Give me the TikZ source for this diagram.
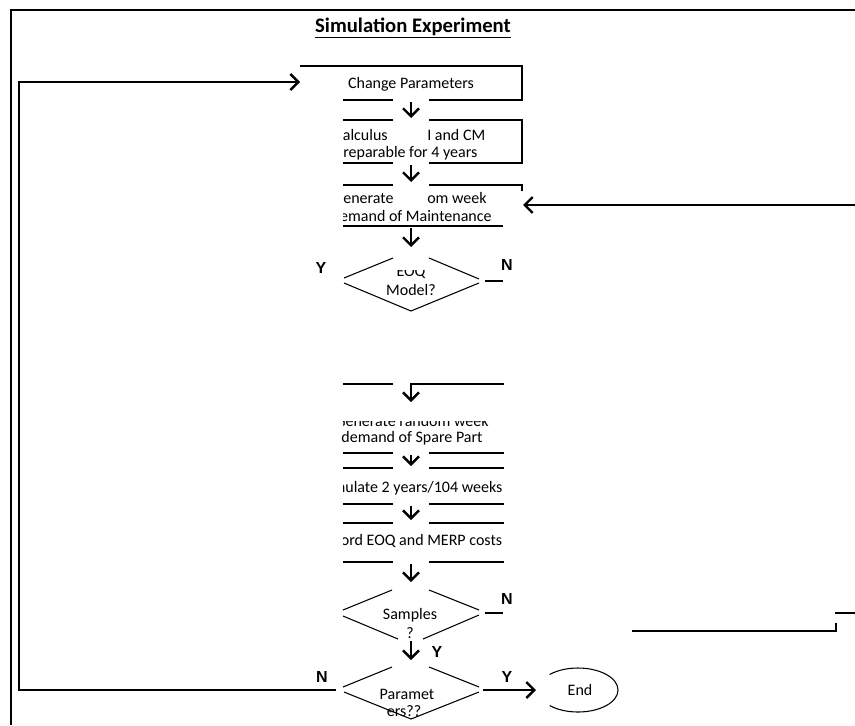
\documentclass[tikz,border=0pt]{standalone}
\usepackage{fontspec}
\setmainfont{Carlito}
\newfontfamily\lblfont{Liberation Sans}
\usetikzlibrary{arrows.meta}

\tikzset{
  boxline/.style={line width=1.8pt},
  dialine/.style={line width=0.8pt},
  flow/.style={line width=1.6pt, -{Straight Barb[length=6pt,width=12pt,line width=1.8pt]}},
  txt/.style={inner sep=0pt, font=\fontsize{12}{14}\selectfont},
  yn/.style={inner sep=0pt, font=\lblfont\bfseries\fontsize{12}{14}\selectfont},
}

\begin{document}
\begin{tikzpicture}[x=0.75pt, y=-0.75pt]
    \useasboundingbox (0,0) rectangle (855,725);

    %cadre
    \draw[line width=2pt] (11,725) -- (11,10) -- (855,10);
    \node[inner sep=0pt, font=\bfseries\fontsize{15.5}{18}\selectfont] (titre) at (413,28) {\underline{Simulation Experiment}};

    %boucle gauche
    \coordinate (bgA) at (336,690);
    \coordinate (bgB) at (19,690);
    \coordinate (bgC) at (19,82);
    \coordinate (bgD) at (300,82);
    \draw[flow] (bgA) -- (bgB) -- (bgC) -- (bgD);

    %boucle droite
    \coordinate (bdA) at (855,205);
    \coordinate (bdB) at (523,205);
    \draw[flow] (bdA) -- (bdB);
    \draw[boxline] (632,631) -- (836,631) -- (836,623);
    \draw[boxline] (835,613) -- (855,613);

    %boites du haut
    \draw[boxline] (300,66) -- (522,66) -- (522,100) -- (429,100);
    \draw[boxline] (393,100) -- (343,100);
    \draw[boxline] (343,120) -- (393,120);
    \draw[boxline] (429,120) -- (522,120) -- (522,163) -- (429,163);
    \draw[boxline] (393,163) -- (343,163);
    \draw[boxline] (343,185) -- (393,185);
    \draw[boxline] (429,185) -- (522,185) -- (522,191);
    \draw[boxline] (343,226) -- (503,226);

    %boites du bas
    \draw[boxline] (343,384) -- (393,384);
    \coordinate (spA) at (504,384);
    \coordinate (spB) at (411,384);
    \coordinate (spC) at (411,402);
    \draw[flow] (spA) -- (spB) -- (spC);
    \foreach \y in {453,468,504,523,562}{
      \draw[boxline] (343,\y) -- (393,\y);
      \draw[boxline] (429,\y) -- (504,\y);
    }

    %fleches
    \foreach \ya/\yb in {102/118, 165/182, 228/247, 455/466, 506/520, 564/582, 641/660}
      \draw[flow] (411,\ya) -- (411,\yb);
    \coordinate (endA) at (483,690);
    \coordinate (endB) at (536,690);
    \draw[flow] (endA) -- (endB);

    %losanges
    \draw[dialine] (344,278) -- (393,258);
    \draw[dialine] (429,258) -- (479,279);
    \draw[dialine] (344,283) -- (411,311) -- (479,283);
    \draw[dialine] (343,610) -- (392,590);
    \draw[dialine] (429,590) -- (479,610);
    \draw[dialine] (343,616) -- (398,639);
    \draw[dialine] (423,639) -- (479,615);
    \draw[dialine] (343,687) -- (392,667);
    \draw[dialine] (429,667) -- (479,687);
    \draw[dialine] (344,692) -- (411,719) -- (479,692);
    \draw[boxline] (485,281) -- (503,281);
    \draw[boxline] (485,613) -- (503,613);

    %fin
    \draw[dialine] (578,690) ++(135:40 and 22) arc[start angle=135, end angle=-135, x radius=40, y radius=22];
    \node[txt] (fin) at (580,690) {End};

    %textes
    \node[txt] (chg) at (411,84) {Change Parameters};
    \begin{scope}
      \clip (343,0) rectangle (393,725);
      \node[txt, anchor=east] (calcA) at (388,135) {Calculus};
      \node[txt, anchor=west] (genA) at (333,198) {Generate};
    \end{scope}
    \node[txt, anchor=west] (calcB) at (427,135) {I and CM};
    \node[txt, anchor=west] (calcC) at (343,153) {reparable for 4 years};
    \node[txt, anchor=west] (genB) at (427,198) {om week};
    \begin{scope}
      \clip (343,0) rectangle (855,725);
      \node[txt] (genC) at (411,216) {Demand of Maintenance};
      \node[txt] (simu) at (412,488) {Simulate 2 years/104 weeks};
      \node[txt] (rec) at (410,541) {Record EOQ and MERP costs};
    \end{scope}
    \begin{scope}
      \clip (343,421) rectangle (855,725);
      \node[txt] (spA) at (412,421) {Generate random week};
    \end{scope}
    \node[txt] (spB) at (412,438) {demand of Spare Part};
    \begin{scope}
      \clip (0,270) rectangle (855,725);
      \node[txt] (eoqA) at (411,272) {EOQ};
    \end{scope}
    \node[txt] (eoqB) at (411,290) {Model?};
    \node[txt] (smpA) at (410,615) {Samples};
    \node[txt] (smpB) at (410,633) {?};
    \node[txt] (parA) at (407,694) {Paramet};
    \node[txt] (parB) at (404,711) {ers??};

    %oui non
    \node[yn] (y1) at (321,268) {Y};
    \node[yn] (n1) at (507,265) {N};
    \node[yn] (n2) at (507,599) {N};
    \node[yn] (y2) at (437,652) {Y};
    \node[yn] (n3) at (322,677) {N};
    \node[yn] (y3) at (507,677) {Y};

\end{tikzpicture}
\end{document}
